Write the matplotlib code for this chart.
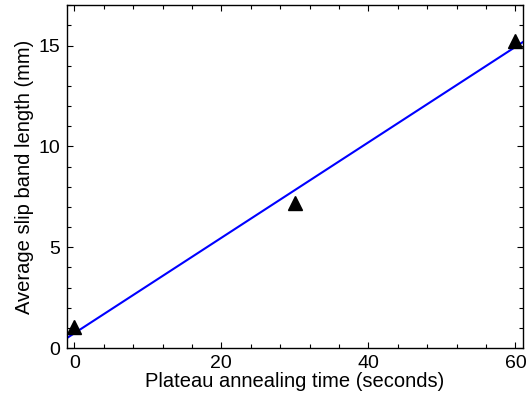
import numpy as np
import matplotlib
matplotlib.use("Agg")
import matplotlib.pyplot as plt
from matplotlib.ticker import MultipleLocator

plt.rcParams['font.family'] = ['Liberation Sans', 'DejaVu Sans']

# data
anneal_time = [0, 30, 60]          # seconds
slip_length = [1.05, 7.2, 15.25]   # mm

# linear fit shown as blue line
coef = np.polyfit(anneal_time, slip_length, 1)
x_fit = np.array([-1, 61])
y_fit = np.polyval(coef, x_fit)

fig = plt.figure(figsize=(5.27, 4.01), dpi=100)
ax = fig.add_axes([0.127, 0.132, 0.865, 0.855])

ax.plot(x_fit, y_fit, color='#0000ff', lw=1.5)
ax.plot(anneal_time, slip_length, '^', color='black', markersize=10, clip_on=False)

ax.set_xlim(-1, 61)
ax.set_ylim(0, 17)
ax.xaxis.set_major_locator(MultipleLocator(20))
ax.xaxis.set_minor_locator(MultipleLocator(4))
ax.yaxis.set_major_locator(MultipleLocator(5))
ax.yaxis.set_minor_locator(MultipleLocator(1))
ax.tick_params(which='both', direction='in', top=True, right=True, labelsize=14, width=0.8)
ax.tick_params(which='major', length=4, pad=5)
ax.tick_params(which='minor', length=3)
for s in ax.spines.values():
    s.set_linewidth(1.0)

ax.set_xlabel("Plateau annealing time (seconds)", fontsize=14.5, labelpad=0)
ax.set_ylabel("Average slip band length (mm)", fontsize=14.5, labelpad=3)

plt.savefig("out.png", dpi=100)
plt.close()
